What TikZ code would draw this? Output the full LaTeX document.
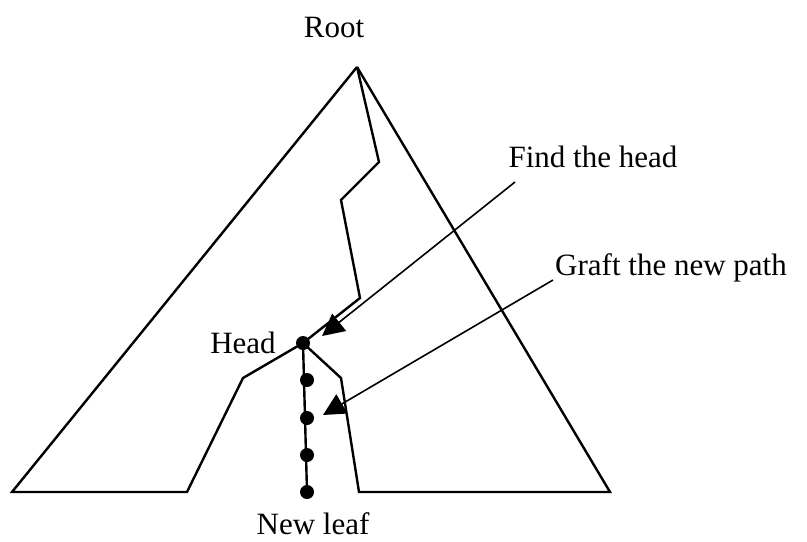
\documentclass[tikz,border=0pt]{standalone}
\usepackage{fontspec}
\setmainfont{Liberation Serif}
\usetikzlibrary{arrows.meta}
\tikzset{
  edge/.style={line width=1.2pt, line join=miter},
  pointer/.style={line width=0.8pt, -{Triangle[length=11pt,width=11pt]}},
  pathdot/.style={circle, fill, inner sep=0pt, minimum size=7pt},
  lbl/.style={font=\fontsize{15.5}{18}\selectfont, inner sep=0pt}
}
\begin{document}
\begin{tikzpicture}[x=0.5pt,y=-0.5pt]
\useasboundingbox (0,0) rectangle (807,541);

% Outline of the tree
\draw[edge] (357,67)--(12,492)--(187,492)--(243,378)--(303,343);
\draw[edge] (303,343)--(341,378)--(359,492)--(610,492)--(357,67);

% Path to the head
\draw[edge] (357,67)--(379,162)--(341,200)--(360,298)--(303,343);

% New path
\node[pathdot] (H) at (303,343) {};
\node[pathdot] (P1) at (307,380) {};
\node[pathdot] (P2) at (307,418) {};
\node[pathdot] (P3) at (307,455) {};
\node[pathdot] (L) at (307,492) {};
\draw[edge] (H.center)--(L.center);

% Labels
\node[lbl] (root) at (334,27) {Root};
\node[lbl] (head) at (243,343) {Head};
\node[lbl] (leaf) at (313,524) {New leaf};
\node[lbl] (find) at (593,157) {Find the head};
\node[lbl] (graft) at (671,268) {Graft the new path};

% Arrows
\coordinate (findtip) at (322,336);
\coordinate (grafttip) at (323,415);
\draw[pointer] ([xshift=-39pt,yshift=-12.5pt]find.center) -- (findtip);
\draw[pointer] ([xshift=-59pt,yshift=-6pt]graft.center) -- (grafttip);
\end{tikzpicture}
\end{document}
